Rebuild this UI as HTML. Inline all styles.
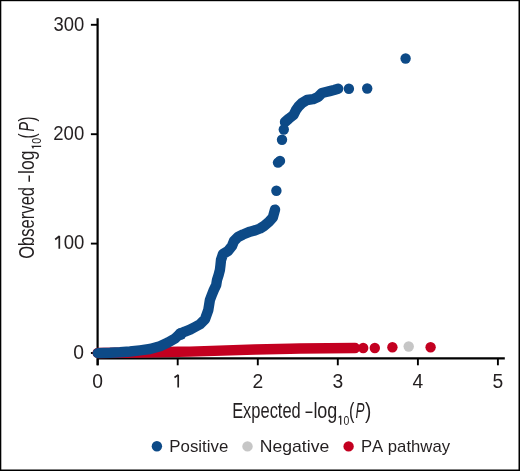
<!DOCTYPE html>
<html><head><meta charset="utf-8"><style>
html,body{margin:0;padding:0;background:#fff;}
body{width:520px;height:471px;overflow:hidden;}
svg{display:block;will-change:transform;}
text{font-family:"Liberation Sans",sans-serif;fill:#231f20;font-kerning:none;}
</style></head><body>
<svg width="520" height="471" viewBox="0 0 520 471">
<rect x="0" y="0" width="520" height="1.2" fill="#000"/><rect x="0" y="0" width="1.3" height="471" fill="#000"/><rect x="518.5" y="0" width="1.5" height="471" fill="#000"/><rect x="0" y="469.5" width="520" height="1.5" fill="#000"/>
<path d="M97.6 18.2V365.3M97.6 358.3H504.8" stroke="#000" stroke-width="2.2" fill="none"/>
<path d="M90.9 353.0H97.6" stroke="#000" stroke-width="1.9"/>
<path d="M90.9 243.6H97.6" stroke="#000" stroke-width="1.9"/>
<path d="M90.9 134.2H97.6" stroke="#000" stroke-width="1.9"/>
<path d="M90.9 24.8H97.6" stroke="#000" stroke-width="1.9"/>
<path d="M97.7 358.3V365.3" stroke="#000" stroke-width="1.9"/>
<path d="M177.7 358.3V365.3" stroke="#000" stroke-width="1.9"/>
<path d="M257.8 358.3V365.3" stroke="#000" stroke-width="1.9"/>
<path d="M337.8 358.3V365.3" stroke="#000" stroke-width="1.9"/>
<path d="M417.9 358.3V365.3" stroke="#000" stroke-width="1.9"/>
<path d="M497.9 358.3V365.3" stroke="#000" stroke-width="1.9"/>
<text x="73.32" y="358.5" font-size="19.3" textLength="10.73" lengthAdjust="spacingAndGlyphs">0</text>
<path d="M55.2 239.5L59.3 236.1V248.8" fill="none" stroke="#231f20" stroke-width="1.7" stroke-linejoin="miter" stroke-miterlimit="2"/>
<text x="63.67" y="249.1" font-size="19.3" textLength="20.65" lengthAdjust="spacingAndGlyphs">00</text>
<text x="53.27" y="139.7" font-size="19.3" textLength="30.96" lengthAdjust="spacingAndGlyphs">200</text>
<text x="53.5" y="31.0" font-size="19.3" textLength="30.72" lengthAdjust="spacingAndGlyphs">300</text>
<text x="92.33" y="387.7" font-size="19.3" textLength="10.73" lengthAdjust="spacingAndGlyphs">0</text>
<path d="M174.5 377.5L178.2 374.9V387.6" fill="none" stroke="#231f20" stroke-width="1.7" stroke-linejoin="miter" stroke-miterlimit="2"/>
<text x="252.41" y="387.7" font-size="19.3" textLength="10.73" lengthAdjust="spacingAndGlyphs">2</text>
<text x="332.51" y="387.7" font-size="19.3" textLength="10.73" lengthAdjust="spacingAndGlyphs">3</text>
<text x="412.55" y="387.7" font-size="19.3" textLength="10.73" lengthAdjust="spacingAndGlyphs">4</text>
<text x="492.55" y="387.7" font-size="19.3" textLength="10.73" lengthAdjust="spacingAndGlyphs">5</text>
<polyline points="97.7,353.0 140.0,352.5 178.0,351.7 190.0,351.6 255.0,349.5 290.0,348.8 300.0,348.5 355.0,348.0" fill="none" stroke="#c30020" stroke-width="10.4" stroke-linecap="round" stroke-linejoin="round"/>
<circle cx="363.2" cy="348.0" r="5.2" fill="#c30020"/>
<circle cx="374.8" cy="348.0" r="5.2" fill="#c30020"/>
<circle cx="392.4" cy="347.2" r="5.2" fill="#c30020"/>
<circle cx="430.6" cy="347.3" r="5.2" fill="#c30020"/>
<circle cx="408.7" cy="346.5" r="5.2" fill="#c6c6c6"/>
<polyline points="97.8,353.1 110.0,352.8 120.0,352.3 130.0,351.5 140.0,350.3 150.0,349.0 160.0,346.2 168.0,342.5 175.0,338.5 180.0,333.8 185.0,331.6 190.0,329.7 195.0,327.0 200.0,324.2 205.0,319.3 208.3,310.0 209.1,305.0 209.9,300.0 211.8,295.0 213.8,290.0 216.2,285.0 217.0,280.0 218.6,275.0 219.9,270.0 220.5,265.0 221.0,260.0 223.0,254.0 228.0,251.0 232.0,246.0 234.0,241.0 238.0,237.0 243.0,234.5 250.0,231.7 255.0,230.4 260.0,228.5 264.0,226.0 269.0,221.8 272.8,217.6 275.0,209.6" fill="none" stroke="#0d4a87" stroke-width="10.4" stroke-linecap="round" stroke-linejoin="round"/>
<polyline points="285.0,122.0 289.0,118.5 293.5,115.0 296.0,110.0 298.5,106.5 302.0,103.0 307.0,100.0 313.0,99.2 318.0,97.0 322.0,93.0 326.0,92.0 329.7,91.1 334.0,90.0 338.2,88.8" fill="none" stroke="#0d4a87" stroke-width="10.4" stroke-linecap="round" stroke-linejoin="round"/>
<circle cx="276.4" cy="190.8" r="5.2" fill="#0d4a87"/>
<circle cx="278.0" cy="162.6" r="5.2" fill="#0d4a87"/>
<circle cx="280.0" cy="160.9" r="5.2" fill="#0d4a87"/>
<circle cx="282.0" cy="139.7" r="5.2" fill="#0d4a87"/>
<circle cx="283.8" cy="129.5" r="5.2" fill="#0d4a87"/>
<circle cx="348.9" cy="88.8" r="5.2" fill="#0d4a87"/>
<circle cx="367.2" cy="88.5" r="5.2" fill="#0d4a87"/>
<circle cx="405.6" cy="58.5" r="5.2" fill="#0d4a87"/>
<circle cx="180.6" cy="334.0" r="5.9" fill="#0d4a87"/>
<g class="ti"><text x="232.15" y="417.6" font-size="22.0" textLength="68.61" lengthAdjust="spacingAndGlyphs">Expected</text><text x="305.4" y="418.40000000000003" font-size="22.0" textLength="6.91" lengthAdjust="spacingAndGlyphs">&#8211;</text><text x="313.39" y="417.6" font-size="22.0" textLength="23.97" lengthAdjust="spacingAndGlyphs">log</text><path d="M338.6 417.5L340.7 416.0V424.7" fill="none" stroke="#231f20" stroke-width="1.25" stroke-linejoin="miter" stroke-miterlimit="2"/><text x="343.39" y="424.6" font-size="12.6" textLength="5.82" lengthAdjust="spacingAndGlyphs">0</text><text x="348.89" y="417.6" font-size="22.0" textLength="5.4" lengthAdjust="spacingAndGlyphs">(</text><text x="355.48" y="417.6" font-size="22.0" textLength="9.0" lengthAdjust="spacingAndGlyphs" font-style="italic">P</text><text x="365.09" y="417.6" font-size="22.0" textLength="6.28" lengthAdjust="spacingAndGlyphs">)</text></g>
<g class="ti" transform="translate(33.7 0) rotate(-90)"><text x="-258.78" y="0" font-size="22.0" textLength="71.85" lengthAdjust="spacingAndGlyphs">Observed</text><text x="-181.7" y="0.8" font-size="22.0" textLength="6.31" lengthAdjust="spacingAndGlyphs">&#8211;</text><text x="-173.98" y="0" font-size="22.0" textLength="23.41" lengthAdjust="spacingAndGlyphs">log</text><path d="M-148.4 -0.3L-146.4 -1.4V7.4" fill="none" stroke="#231f20" stroke-width="1.25" stroke-linejoin="miter" stroke-miterlimit="2"/><text x="-143.72" y="7.0" font-size="12.6" textLength="5.93" lengthAdjust="spacingAndGlyphs">0</text><text x="-138.54" y="0" font-size="22.0" textLength="5.02" lengthAdjust="spacingAndGlyphs">(</text><text x="-131.54" y="0" font-size="22.0" textLength="9.53" lengthAdjust="spacingAndGlyphs" font-style="italic">P</text><text x="-121.49" y="0" font-size="22.0" textLength="5.02" lengthAdjust="spacingAndGlyphs">)</text></g>
<circle cx="156.9" cy="446.3" r="5.2" fill="#0d4a87"/>
<circle cx="247.5" cy="446.4" r="5.2" fill="#c6c6c6"/>
<circle cx="348.6" cy="446.4" r="5.2" fill="#c30020"/>
<g class="lg"><text x="169.32" y="451.5" font-size="16.6" textLength="59.03" lengthAdjust="spacingAndGlyphs">Positive</text><text x="259.75" y="451.5" font-size="16.6" textLength="69.53" lengthAdjust="spacingAndGlyphs">Negative</text><text x="360.93" y="451.5" font-size="16.6" textLength="89.1" lengthAdjust="spacingAndGlyphs">PA pathway</text></g>
</svg>
</body></html>
